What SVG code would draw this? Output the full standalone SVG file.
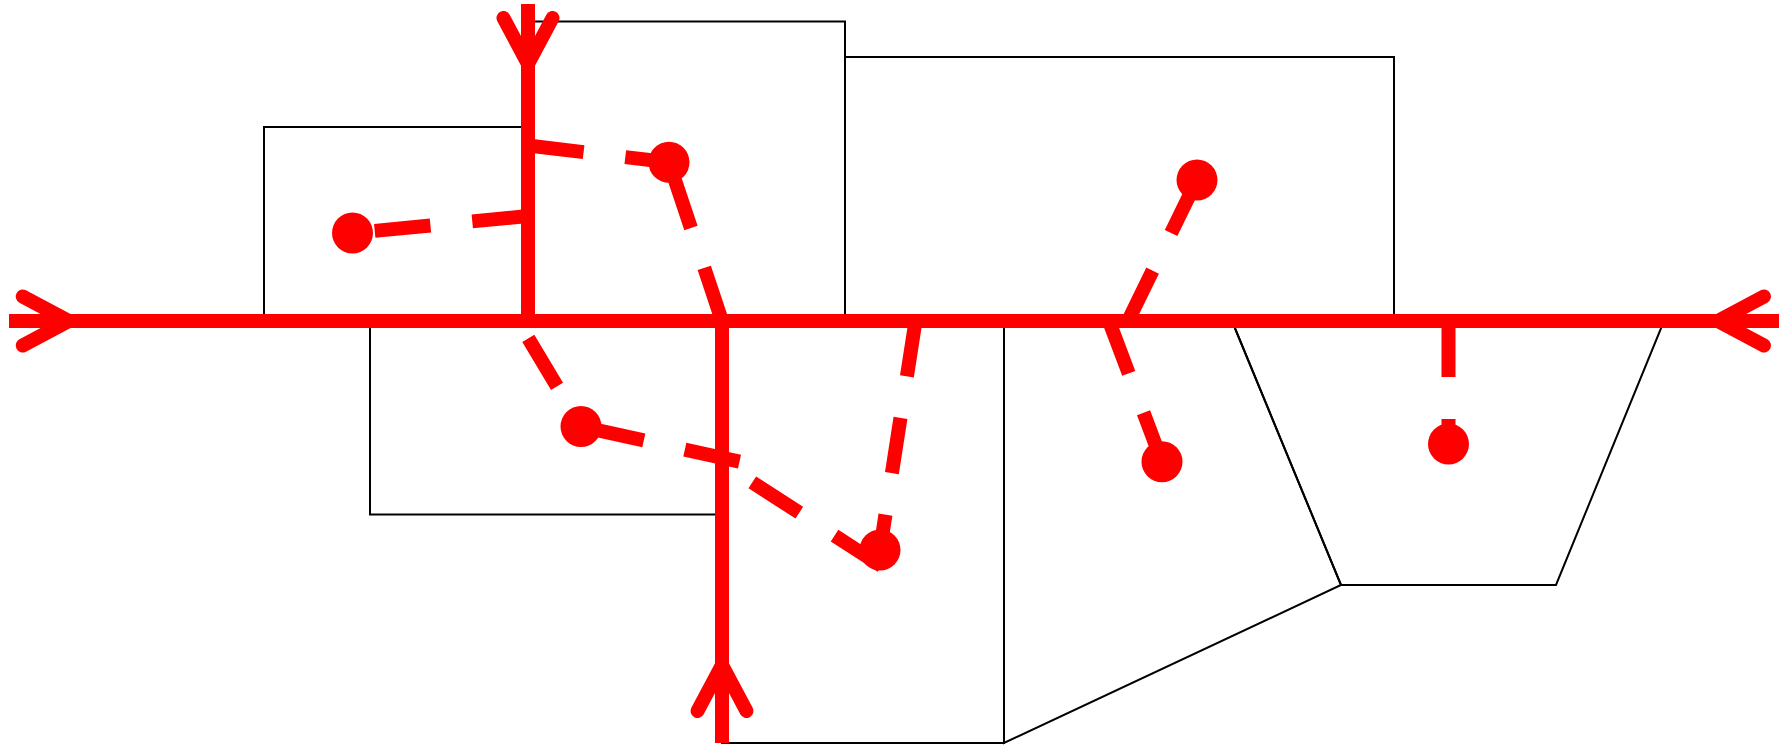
<svg xmlns="http://www.w3.org/2000/svg" width="1788" height="746" viewBox="0 0 1788 746">
<style>
.box{fill:none;stroke:#000;stroke-width:2}
.street{fill:none;stroke:#ff0000;stroke-width:14}
.dash{fill:none;stroke:#ff0000;stroke-width:14;stroke-dasharray:56 42;stroke-linecap:butt}
.head{fill:none;stroke:#ff0000;stroke-width:14;stroke-linecap:round;stroke-linejoin:round}
.dot{fill:#ff0000}
</style>
<defs>
<path id="ah" class="head" d="M-46,-24.5 L0,0 L-46,24.5"/>
</defs>
<rect width="1788" height="746" fill="#fff"/>
<g id="blocks">
<rect id="block-upper-left" class="box" x="264" y="127" width="264" height="194"/>
<rect id="block-tall" class="box" x="528" y="21.5" width="317" height="299.5"/>
<rect id="block-upper-right" class="box" x="845" y="57" width="549" height="264"/>
<rect id="block-lower-left" class="box" x="370" y="321" width="352" height="193.5"/>
<rect id="block-lower-mid" class="box" x="722" y="321" width="282" height="422"/>
<polygon id="block-lower-slant" class="box" points="1004,321 1232,321 1341,585 1004,743"/>
<polygon id="block-trapezoid" class="box" points="1232,321 1664,321 1556,585 1341,585"/>
</g>
<g id="connectors">
<line class="dash" x1="528" y1="216" x2="352.5" y2="233"/>
<line class="dash" x1="528" y1="145.5" x2="669" y2="162.3"/>
<line class="dash" x1="722" y1="321" x2="669" y2="162.3"/>
<line class="dash" x1="1128" y1="321" x2="1197" y2="180"/>
<line class="dash" x1="528.3" y1="338.3" x2="581" y2="426.5"/>
<line class="dash" x1="739.5" y1="461.7" x2="581" y2="426.5"/>
<line class="dash" x1="752.3" y1="482.3" x2="881.5" y2="566"/>
<line class="dash" x1="915.5" y1="321" x2="880" y2="550"/>
<line class="dash" x1="1109" y1="321" x2="1162" y2="461.7"/>
<line class="dash" x1="1448.5" y1="321" x2="1448.5" y2="444"/>
<line id="street-main" class="street" x1="9" y1="321" x2="1779" y2="321"/>
<line id="street-north" class="street" x1="528" y1="4" x2="528" y2="321"/>
<line id="street-south" class="street" x1="722" y1="321" x2="722" y2="743"/>
<use href="#ah" transform="translate(68.7,321)"/>
<use href="#ah" transform="translate(1718,321) rotate(180)"/>
<use href="#ah" transform="translate(528,64) rotate(90)"/>
<use href="#ah" transform="translate(722,665) rotate(-90)"/>
</g>
<g id="point-a"><circle class="dot" cx="352.5" cy="233" r="20.5"/></g>
<g id="point-b"><circle class="dot" cx="669" cy="162.3" r="20.5"/></g>
<g id="point-c"><circle class="dot" cx="1197" cy="180" r="20.5"/></g>
<g id="point-d"><circle class="dot" cx="581" cy="426.5" r="20.5"/></g>
<g id="point-e"><circle class="dot" cx="880" cy="550" r="20.5"/></g>
<g id="point-f"><circle class="dot" cx="1162" cy="461.7" r="20.5"/></g>
<g id="point-g"><circle class="dot" cx="1448.5" cy="444" r="20.5"/></g>
</svg>
